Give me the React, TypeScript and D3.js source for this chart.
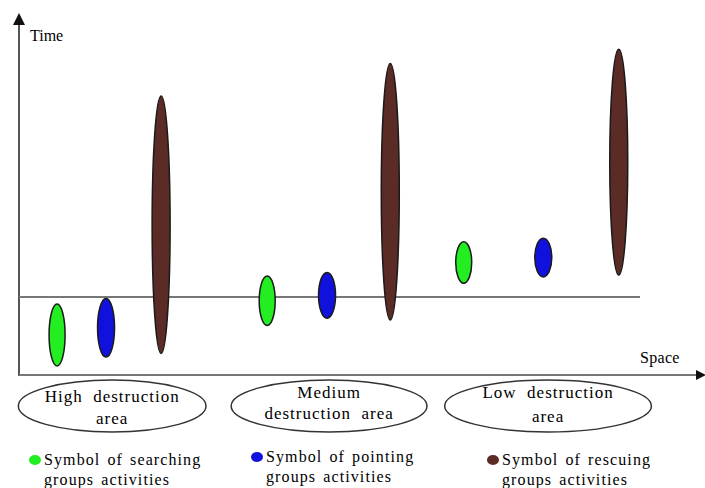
import { scaleLinear } from "d3";

// activity symbols: position in space (0-100) and time span (start, end)
const groups = ["searching", "pointing", "rescuing"];
const spacePos = [5.6, 12.8, 20.9, 36.5, 45.3, 54.6, 65.4, 77.1, 88.2];
const groupOf = [0, 1, 2, 0, 1, 2, 0, 1, 2];
const timeStart = [0.5, 1.0, 1.2, 2.75, 3.15, 3.05, 5.1, 5.45, 5.55];
const timeEnd = [3.95, 4.25, 15.5, 5.5, 5.7, 17.3, 7.4, 7.6, 18.1];
const baselineTime = 4.33;

// destruction areas under the space axis
const areaNames = [
  ["High  destruction", "area"],
  ["Medium", "destruction  area"],
  ["Low  destruction", "area"],
];
const areaPos = [13.7, 45.6, 77.8];
const areaHalfWidth = [13.8, 14.4, 15.2];

const legendLabels = [
  "Symbol of searching",
  "Symbol of pointing",
  "Symbol of rescuing",
];

const W = 705,
  H = 488;
const x0 = 19,
  yAxisBottom = 375;

const colors = ["#22ee22", "#1111dd", "#5b2b26"];
const halfWidths = [8, 8.5, 9];

const App = () => {
  const x = scaleLinear([0, 100], [x0, 699]);
  const y = scaleLinear([0, 20], [yAxisBottom, 15]);
  const font = "'Liberation Serif', 'Times New Roman', Times, serif";

  return (
    <svg
      width={W}
      height={H}
      style={{ position: "absolute", left: 0, top: 0, background: "#fff" }}
      fontFamily={font}
    >
      {/* axes */}
      <line x1={x0} y1={yAxisBottom + 1} x2={x0} y2={22} stroke="#555" strokeWidth={2} />
      <path d={`M${x0 - 6},25 L${x0},13 L${x0 + 6},25 Z`} fill="#111" />
      <line x1={x0} y1={yAxisBottom} x2={698} y2={yAxisBottom} stroke="#777" strokeWidth={2} />
      <path d={`M696,${yAxisBottom - 5} L706,${yAxisBottom} L696,${yAxisBottom + 5} Z`} fill="#111" />
      <text x={30} y={41} fontSize={16}>Time</text>
      <text x={640} y={363} fontSize={16} letterSpacing={0.3}>Space</text>

      {/* baseline of the event */}
      <line
        x1={x0}
        y1={y(baselineTime)}
        x2={640}
        y2={y(baselineTime)}
        stroke="#777"
        strokeWidth={2}
      />

      {/* activity symbols */}
      {spacePos.map((s, i) => {
        const g = groupOf[i];
        const top = y(timeEnd[i]);
        const bot = y(timeStart[i]);
        return (
          <ellipse
            key={i}
            cx={x(s)}
            cy={(top + bot) / 2}
            rx={halfWidths[g]}
            ry={(bot - top) / 2}
            fill={colors[g]}
            stroke="#1a1a1a"
            strokeWidth={1.5}
          />
        );
      })}

      {/* area labels */}
      {areaPos.map((a, i) => (
        <g key={i}>
          <ellipse
            cx={x(a)}
            cy={406}
            rx={x(a + areaHalfWidth[i]) - x(a)}
            ry={26}
            fill="none"
            stroke="#333"
            strokeWidth={1.5}
          />
          <text
            x={x(a)}
            y={i === 0 ? 402 : 398}
            fontSize={17}
            textAnchor="middle"
            style={{ whiteSpace: "pre" }}
            letterSpacing={1}
          >
            {areaNames[i][0]}
          </text>
          <text
            x={x(a)}
            y={i === 0 ? 424 : i === 1 ? 419 : 422}
            fontSize={17}
            textAnchor="middle"
            style={{ whiteSpace: "pre" }}
            letterSpacing={1}
          >
            {areaNames[i][1]}
          </text>
        </g>
      ))}

      {/* legend */}
      {groups.map((g, i) => {
        const lx = [44, 266, 502][i];
        const ly = [465, 462, 465][i];
        return (
          <g key={g}>
            <ellipse cx={lx - 9} cy={ly - 5} rx={6} ry={5} fill={colors[i]} />
            <text x={lx} y={ly} fontSize={16} letterSpacing={1.1} wordSpacing={2}>
              {legendLabels[i]}
            </text>
            <text x={lx} y={ly + 20} fontSize={16} letterSpacing={1.1} wordSpacing={2}>
              groups activities
            </text>
          </g>
        );
      })}
    </svg>
  );
};

export default App;
